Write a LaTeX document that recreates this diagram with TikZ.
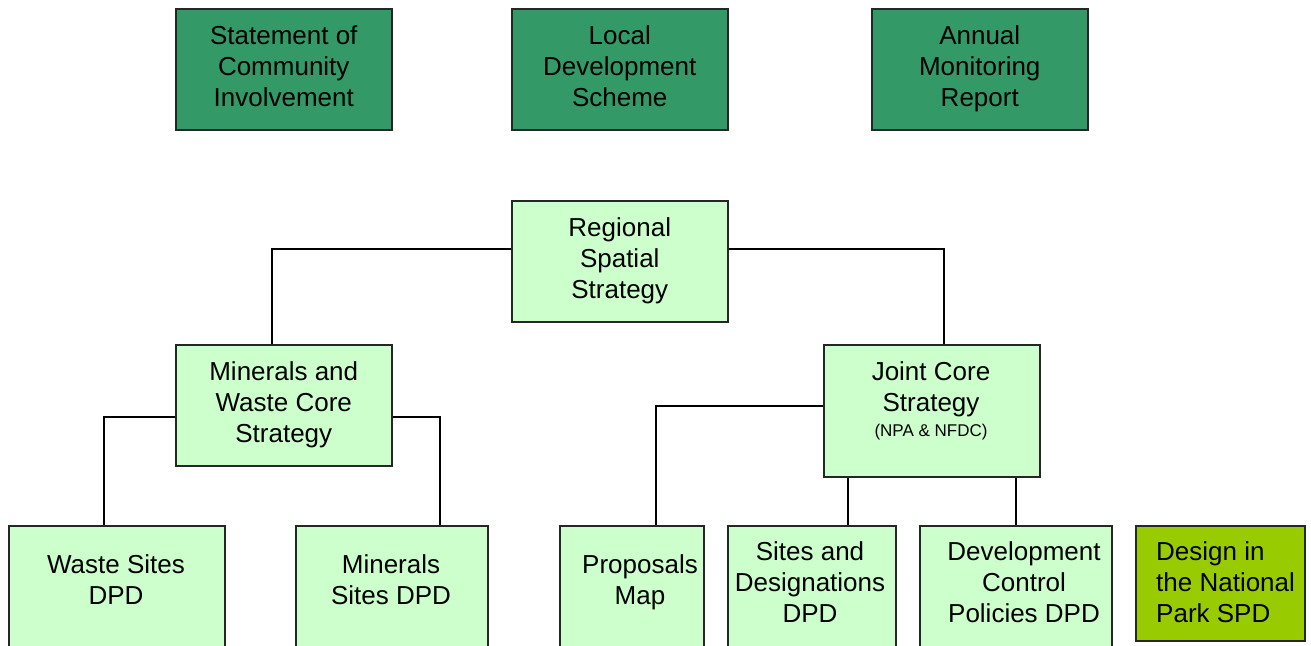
\documentclass[tikz,border=0pt]{standalone}
\usepackage{fontspec}
\setmainfont{Liberation Sans}
\definecolor{dkgreen}{HTML}{339966}
\definecolor{ltgreen}{HTML}{CCFFCC}
\definecolor{limegr}{HTML}{99CC00}
\begin{document}
\begin{tikzpicture}[x=1pt,y=-1pt,
  box/.style={draw=black!85, line width=1.5pt, align=center, inner sep=0pt, anchor=north west,
    font=\fontsize{26}{31}\selectfont},
  dkbox/.style={box, fill=dkgreen},
  ltbox/.style={box, fill=ltgreen},
  lbl/.style={align=center, inner sep=0pt, font=\fontsize{26}{31}\selectfont},
  conn/.style={draw=black, line width=1.5pt}]
\useasboundingbox (0,0) rectangle (1311,645);
\clip (0,0) rectangle (1311,645);
% top row
\node[dkbox, minimum width=216pt, minimum height=121pt] (sci) at (175,8) {Statement of\\Community\\Involvement\vphantom{p}};
\node[dkbox, minimum width=216pt, minimum height=121pt] (lds) at (511,8) {Local\\Development\\Scheme\vphantom{p}};
\node[dkbox, minimum width=216pt, minimum height=121pt] (amr) at (871,8) {Annual\\Monitoring\\Report};
% hierarchy
\node[ltbox, minimum width=216pt, minimum height=121pt] (rss) at (511,200) {Regional\\Spatial\\Strategy};
\node[ltbox, minimum width=216pt, minimum height=121pt] (mwcs) at (175,344) {Minerals and\\Waste Core\\Strategy};
\node[ltbox, minimum width=216pt, minimum height=132pt] (jcs) at (823,344) {};
\node[lbl, anchor=north] (jcst) at (931,361) {Joint Core\\Strategy\\[-6pt]{\fontsize{17}{20}\selectfont (NPA \& NFDC)}};
% bottom row
\node[ltbox, minimum width=216pt, minimum height=130pt] (waste) at (8,525) {};
\node[ltbox, minimum width=192pt, minimum height=130pt] (min) at (295,525) {};
\node[ltbox, minimum width=144pt, minimum height=130pt] (prop) at (559,525) {};
\node[ltbox, minimum width=168pt, minimum height=130pt] (sites) at (727,525) {};
\node[ltbox, minimum width=192pt, minimum height=130pt] (dcp) at (919,525) {};
\node[box, fill=limegr, minimum width=169pt, minimum height=115pt] (design) at (1135,525) {};
\node[lbl] (wastet) at (116,580) {Waste Sites\\DPD};
\node[lbl] (mint) at (391,580) {Minerals\\Sites DPD};
\node[lbl] (propt) at (640,582) {Proposals\\Map};
\node[lbl] (sitest) at (810,582) {Sites and\\Designations\\DPD};
\node[lbl] (dcpt) at (1024,582) {Development\\Control\\Policies DPD};
\node[lbl, align=left, anchor=west] (designt) at (1156,582) {Design in\\the National\\Park SPD};
% connectors
\draw[conn] ([yshift=12.5pt]rss.west) -| ([xshift=-12pt]mwcs.north);
\draw[conn] ([yshift=12.5pt]rss.east) -| ([xshift=12pt]jcs.north);
\draw[conn] ([yshift=-11.5pt]mwcs.west) -| ([xshift=-13pt]waste.north);
\draw[conn] ([yshift=-11.5pt]mwcs.east) -| ([xshift=48pt]min.north);
\draw[conn] ([yshift=5pt]jcs.west) -| ([xshift=24pt]prop.north);
\draw[conn] ([xshift=36pt]sites.north) -- ([xshift=36pt]sites.north |- jcs.south);
\draw[conn] (dcp.north) -- (dcp.north |- jcs.south);
\end{tikzpicture}
\end{document}
